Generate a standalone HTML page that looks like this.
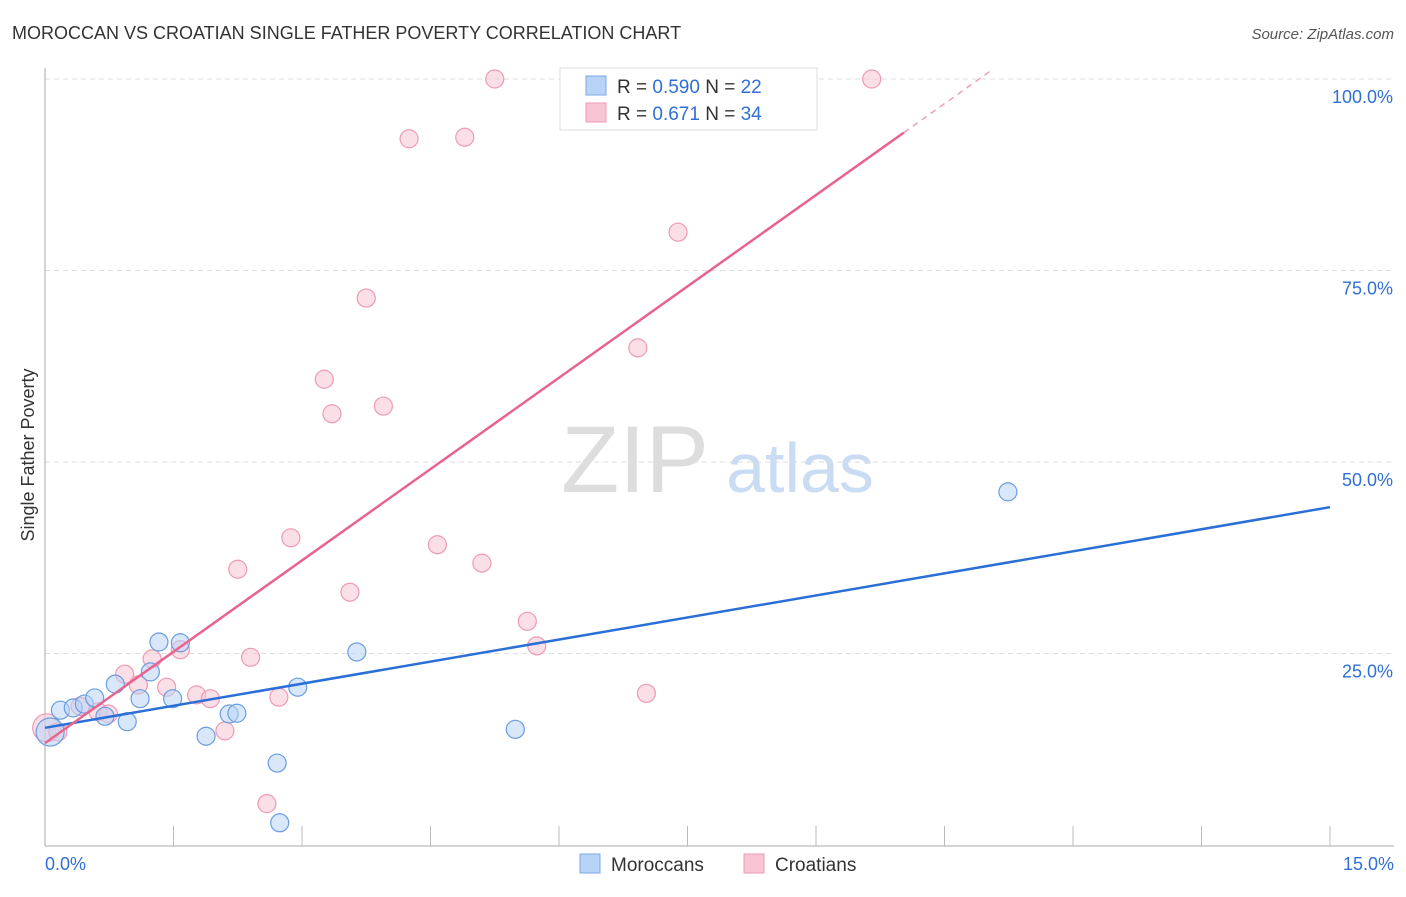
<!DOCTYPE html>
<html><head><meta charset="utf-8"><style>
body{margin:0;background:#fff;font-family:"Liberation Sans",sans-serif}
svg text{font-family:"Liberation Sans",sans-serif}
</style></head><body>
<svg width="1406" height="892" viewBox="0 0 1406 892" id="c">
<text x="12" y="39" font-size="18" fill="#333">MOROCCAN VS CROATIAN SINGLE FATHER POVERTY CORRELATION CHART</text>
<text x="1394" y="39" font-size="15" fill="#555" text-anchor="end" font-style="italic">Source: ZipAtlas.com</text>
<text x="635" y="492" font-size="95" fill="#ddd" font-family="Liberation Serif" text-anchor="middle">ZIP</text>
<text x="800" y="492" font-size="70" fill="#c9dcf3" text-anchor="middle">atlas</text>
<text x="34" y="455" font-size="18" fill="#333" text-anchor="middle" transform="rotate(-90 34 455)">Single Father Poverty</text>
<g id="grid"></g><g id="axes"></g><g id="pts"></g><g id="lines"></g>
<g>
<rect x="560" y="68" width="257" height="62" fill="#fff" stroke="#ddd"/>
<rect x="586" y="76" width="20" height="19" fill="#b8d3f5" stroke="#7aa8e6"/>
<rect x="586" y="103" width="20" height="19" fill="#f8c5d4" stroke="#ee9ab3"/>
<text x="617" y="93" font-size="19" fill="#333">R = <tspan fill="#2f6fd6">0.590</tspan>   N = <tspan fill="#2f6fd6">22</tspan></text>
<text x="617" y="120" font-size="19" fill="#333">R =  <tspan fill="#2f6fd6">0.671</tspan>   N = <tspan fill="#2f6fd6">34</tspan></text>
</g>
<g>
<rect x="580" y="854" width="20" height="19" fill="#b8d3f5" stroke="#7aa8e6"/>
<text x="611" y="871" font-size="19" fill="#333">Moroccans</text>
<rect x="744" y="854" width="20" height="19" fill="#f8c5d4" stroke="#ee9ab3"/>
<text x="775" y="871" font-size="19" fill="#333">Croatians</text>
</g>
</svg>
<script>
const blueX=[0.06,0.18,0.33,0.46,0.58,0.70,0.82,0.96,1.11,1.23,1.33,1.49,1.58,1.88,2.15,2.24,2.71,2.74,2.95,3.64,5.49,11.24];
const blueY=[14.75,17.6,17.9,18.4,19.2,16.8,21.0,16.1,19.1,22.6,26.5,19.1,26.4,14.2,17.1,17.2,10.7,2.9,20.6,25.2,15.1,46.1];
const pinkX=[0.02,0.15,0.41,0.62,0.74,0.93,1.09,1.25,1.42,1.58,1.77,1.93,2.10,2.25,2.40,2.59,2.73,2.87,3.26,3.35,3.56,3.75,3.95,4.25,4.58,4.90,5.10,5.25,5.63,5.74,6.92,7.02,7.39,9.65];
const pinkY=[15.3,14.75,18.1,17.4,17.1,22.3,20.9,24.3,20.6,25.5,19.6,19.1,14.9,36.0,24.5,5.4,19.3,40.1,60.8,56.3,33.0,71.4,57.3,92.2,39.2,92.4,36.8,100,29.2,26.0,64.9,19.8,80.0,100];
const blueLine=[15.3,44.1];
const pinkLine=[13.3,7.95];
const yTicks=[25,50,75,100];
const xTickLabels=["0.0%","15.0%"];
const NS="http://www.w3.org/2000/svg";
const X=v=>45+v/15*1285, Y=v=>845-v*7.66;
function mk(t,a,p){const e=document.createElementNS(NS,t);for(const k in a)e.setAttribute(k,a[k]);p.appendChild(e);return e;}
const grid=document.getElementById('grid'),axes=document.getElementById('axes'),pts=document.getElementById('pts'),lines=document.getElementById('lines');
yTicks.forEach(t=>{
 const l=mk('line',{x1:45,x2:1394,y1:Y(t),y2:Y(t),stroke:'#ddd','stroke-dasharray':'5,4'},grid);
 
 
 const tx=mk('text',{x:1393,y:Y(t)+24,'font-size':18,fill:'#2f6fd6','text-anchor':'end'},axes);tx.textContent=t.toFixed(1)+'%';
 
 
});
mk('line',{x1:45,x2:45,y1:68,y2:846,stroke:'#aaa'},axes);
mk('line',{x1:45,x2:1394,y1:846,y2:846,stroke:'#aaa'},axes);
for(let i=1;i<=10;i++){const x=45+i*128.5;mk('line',{x1:x,x2:x,y1:826,y2:846,stroke:'#bbb'},axes);}
const t0=mk('text',{x:45,y:870,'font-size':18,fill:'#2f6fd6'},axes);t0.textContent=xTickLabels[0];


const t1=mk('text',{x:1394,y:870,'font-size':18,fill:'#2f6fd6','text-anchor':'end'},axes);t1.textContent=xTickLabels[1];


function dots(xs,ys,fill,stroke,name){xs.forEach((x,i)=>{
 const r=x<0.1?14:9;
 const c=mk('circle',{cx:X(x),cy:Y(ys[i]),r:r,fill:fill,'fill-opacity':0.55,stroke:stroke,'stroke-width':1.2},pts);
 
 
});}
dots(pinkX,pinkY,'#f8c5d4','#ee9ab3','croatian-point');
dots(blueX,blueY,'#b8d3f5','#6a9de0','moroccan-point');
const bl=mk('line',{x1:X(0),y1:Y(blueLine[0]),x2:X(15),y2:Y(blueLine[1]),stroke:'#2a6fd6','stroke-width':2.5},lines);


const xe=(93-pinkLine[0])/pinkLine[1], xd=(100-pinkLine[0])/pinkLine[1]+0.15;
const pl=mk('line',{x1:X(0),y1:Y(pinkLine[0]),x2:X(xe),y2:Y(pinkLine[0]+pinkLine[1]*xe),stroke:'#e8648f','stroke-width':2.5},lines);


const pd=mk('line',{x1:X(xe),y1:Y(pinkLine[0]+pinkLine[1]*xe),x2:X(xd),y2:Y(pinkLine[0]+pinkLine[1]*xd),stroke:'#f0a0b8','stroke-width':1.5,'stroke-dasharray':'6,5'},lines);


</script>
</body></html>
